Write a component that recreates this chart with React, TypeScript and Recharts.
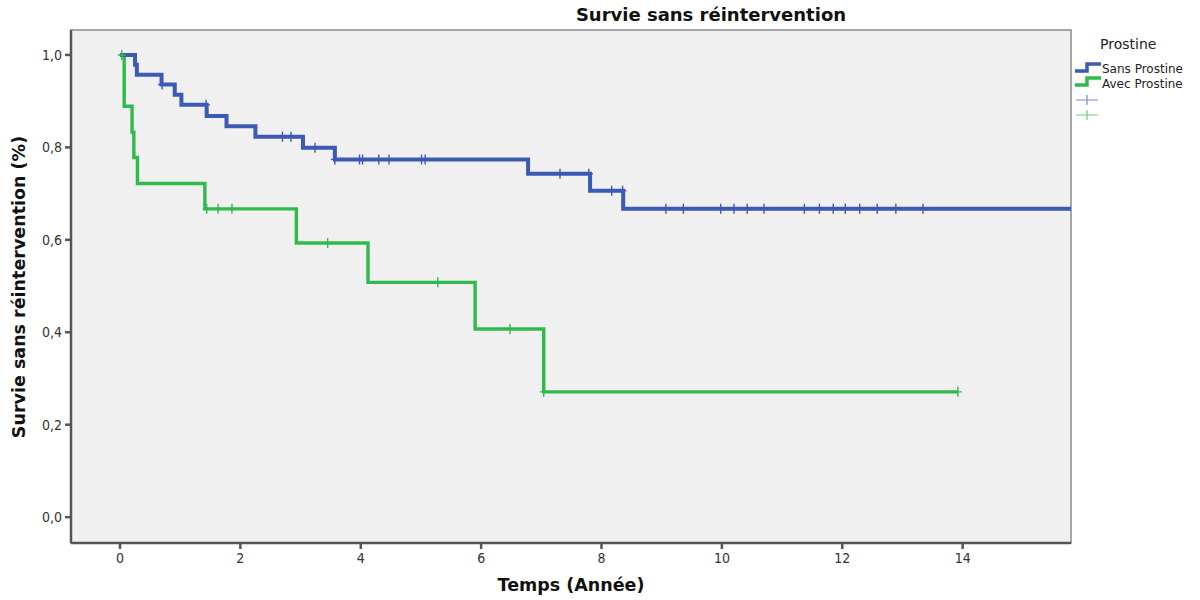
import React from 'react';
import { ComposedChart, Line, XAxis, YAxis, CartesianGrid, ReferenceArea } from 'recharts';

// Kaplan-Meier steps, "Sans Prostine"
const sansTimes = [0, 0.25, 0.28, 0.69, 0.91, 1.02, 1.44, 1.77, 2.25, 3.04, 3.57, 6.78, 7.81, 8.36, 15.8];
const sansSurv = [1, 0.979, 0.957, 0.936, 0.914, 0.892, 0.868, 0.846, 0.823, 0.799, 0.774, 0.743, 0.706, 0.667, 0.667];
const sansCensored = [
  0.7, 1.43, 2.7, 2.84, 3.24, 3.57, 3.98, 4.03, 4.3, 4.47, 5.01, 5.07, 7.31, 7.79, 8.17, 8.35,
  9.07, 9.36, 9.98, 10.2, 10.42, 10.7, 11.37, 11.62, 11.85, 12.05, 12.29, 12.58, 12.89, 13.34,
];

// "Avec Prostine"
const avecTimes = [0, 0.07, 0.2, 0.23, 0.29, 1.41, 2.93, 4.12, 5.9, 7.04, 13.92];
const avecSurv = [1, 0.889, 0.833, 0.778, 0.722, 0.667, 0.593, 0.508, 0.407, 0.271, 0.271];
const avecCensored = [0.03, 1.44, 1.63, 1.86, 3.45, 5.28, 6.48, 7.04, 13.92];

const xTicks = [0, 2, 4, 6, 8, 10, 12, 14];
const yTicks = [0, 0.2, 0.4, 0.6, 0.8, 1];

const BLUE = '#3c5ab4';
const GREEN = '#31b94b';
const FONT = "'DejaVu Sans', sans-serif";
const TICK_FONT = "'DejaVu Sans Condensed', 'DejaVu Sans', sans-serif";

const X_DOMAIN: [number, number] = [-0.814, 15.8];
const Y_DOMAIN: [number, number] = [-0.056, 1.054];

const survAt = (times: number[], surv: number[], t: number) => {
  let v = surv[0];
  for (let i = 0; i < times.length; i++) if (times[i] <= t) v = surv[i];
  return v;
};

const steps = (times: number[], surv: number[]) => times.map((t, i) => ({ t, s: surv[i] }));
const marks = (cens: number[], times: number[], surv: number[]) =>
  cens.map((t) => ({ t, s: survAt(times, surv, t) }));

const sansData = steps(sansTimes, sansSurv);
const avecData = steps(avecTimes, avecSurv);
const sansMarks = marks(sansCensored, sansTimes, sansSurv);
const avecMarks = marks(avecCensored, avecTimes, avecSurv);

const plusDot = (color: string) => (props: any) => {
  const { cx, cy, index } = props;
  if (cx == null || cy == null) return <g key={index} />;
  return (
    <path
      key={index}
      d={`M${cx - 4},${cy}H${cx + 4}M${cx},${cy - 5}V${cy + 5}`}
      stroke={color}
      strokeWidth={1.4}
      fill="none"
    />
  );
};

const LegendBox = () => (
  <div style={{ position: 'absolute', left: 1074, top: 34, width: 126, fontFamily: FONT, color: '#222' }}>
    <div style={{ position: 'absolute', left: 26, top: 2, fontSize: 14 }}>Prostine</div>
    <svg width={30} height={60} style={{ position: 'absolute', left: 0, top: 26 }}>
      <path d="M1,11 H13 V4 H27" stroke={BLUE} strokeWidth={3.5} fill="none" />
      <path d="M1,25 H13 V18 H27" stroke={GREEN} strokeWidth={3.5} fill="none" />
      <path d="M2,40 H24 M13,35 V45" stroke={BLUE} strokeWidth={1.2} opacity={0.7} fill="none" />
      <path d="M2,55 H24 M13,50 V60" stroke={GREEN} strokeWidth={1.2} opacity={0.7} fill="none" />
    </svg>
    <div style={{ position: 'absolute', left: 28, top: 28, fontSize: 12, whiteSpace: 'nowrap' }}>Sans Prostine</div>
    <div style={{ position: 'absolute', left: 28, top: 43, fontSize: 12, whiteSpace: 'nowrap' }}>Avec Prostine</div>
  </div>
);

export default function App() {
  return (
    <div style={{ position: 'absolute', left: 0, top: 0, width: 1200, height: 600, background: '#fff' }}>
      <div
        style={{
          position: 'absolute',
          left: 511,
          width: 400,
          top: 4,
          textAlign: 'center',
          fontFamily: FONT,
          fontWeight: 'bold',
          fontSize: 18,
          color: '#111',
        }}
      >
        Survie sans réintervention
      </div>
      <ComposedChart
        width={1200}
        height={600}
        margin={{ top: 30, right: 129, bottom: 27, left: 31 }}
        style={{ fontFamily: FONT }}
      >
        <CartesianGrid fill="#f0f0f0" horizontal={false} vertical={false} />
        <ReferenceArea
          x1={X_DOMAIN[0]}
          x2={X_DOMAIN[1]}
          y1={Y_DOMAIN[0]}
          y2={Y_DOMAIN[1]}
          fill="none"
          stroke="#8c8c8c"
          strokeWidth={1.5}
        />
        <XAxis
          type="number"
          dataKey="t"
          domain={X_DOMAIN}
          allowDataOverflow
          ticks={xTicks}
          height={30}
          stroke="#555"
          strokeWidth={2.5}
          tickSize={6}
          tickMargin={4}
          tick={{ fill: '#333', fontSize: 14, fontFamily: TICK_FONT }}
          label={() => (
            <text
              x={571}
              y={585}
              textAnchor="middle"
              dominantBaseline="central"
              fontWeight="bold"
              fontSize={17.5}
              fill="#111"
            >
              Temps (Année)
            </text>
          )}
        />
        <YAxis
          type="number"
          dataKey="s"
          domain={Y_DOMAIN}
          allowDataOverflow
          ticks={yTicks}
          width={40}
          stroke="#555"
          strokeWidth={2.5}
          tickSize={6}
          tickMargin={3}
          tick={{ fill: '#333', fontSize: 14, fontFamily: TICK_FONT }}
          tickFormatter={(v: number) => v.toFixed(1).replace('.', ',')}
          label={() => (
            <text
              x={19}
              y={287}
              transform="rotate(-90 19 287)"
              textAnchor="middle"
              dominantBaseline="central"
              fontWeight="bold"
              fontSize={17.5}
              fill="#111"
            >
              Survie sans réintervention (%)
            </text>
          )}
        />
        <Line
          data={avecData}
          dataKey="s"
          type="stepAfter"
          stroke={GREEN}
          strokeWidth={3.4}
          dot={false}
          activeDot={false}
          isAnimationActive={false}
        />
        <Line
          data={sansData}
          dataKey="s"
          type="stepAfter"
          stroke={BLUE}
          strokeWidth={4}
          dot={false}
          activeDot={false}
          isAnimationActive={false}
        />
        <Line
          data={avecMarks}
          dataKey="s"
          stroke="none"
          dot={plusDot(GREEN)}
          activeDot={false}
          isAnimationActive={false}
        />
        <Line
          data={sansMarks}
          dataKey="s"
          stroke="none"
          dot={plusDot(BLUE)}
          activeDot={false}
          isAnimationActive={false}
        />
      </ComposedChart>
      <LegendBox />
    </div>
  );
}
